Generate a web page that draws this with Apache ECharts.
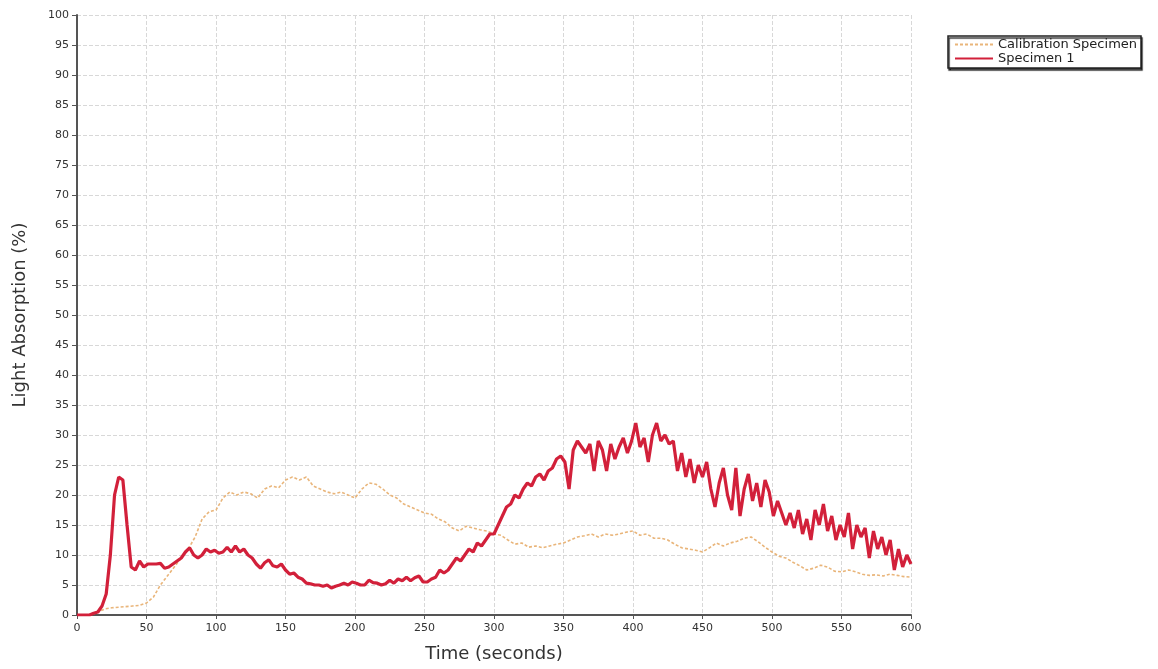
<!DOCTYPE html>
<html>
<head>
<meta charset="utf-8">
<script src="https://cdn.jsdelivr.net/npm/echarts@6/dist/echarts.min.js"></script>
<style>
html,body{margin:0;padding:0;background:#fff;}
#chart{width:1158px;height:669px;}
</style>
</head>
<body>
<div id="chart"></div>
<script>
// Specimen 1 sampled every 3 s (0..600)
var specimenStep = 3;
var specimen1 = [
  0,0,0,0,0.3,0.5,1.5,3.5,10,20,
  23,22.5,15,8,7.5,9,8,8.5,8.5,8.5,
  8.6,7.8,8,8.5,9,9.5,10.5,11.2,10,9.5,
  10,11,10.5,10.8,10.3,10.5,11.3,10.5,11.5,10.5,
  11,10,9.5,8.5,7.8,8.7,9.2,8.2,8,8.5,
  7.5,6.8,7,6.3,6,5.3,5.2,5,5,4.8,
  5,4.5,4.8,5,5.3,5,5.5,5.3,5,5,
  5.8,5.4,5.3,5,5.2,5.8,5.3,6,5.7,6.3,
  5.7,6.2,6.5,5.5,5.5,6,6.3,7.5,7,7.5,
  8.5,9.5,9,10,11,10.5,12,11.5,12.5,13.5,
  13.5,15,16.5,18,18.5,20,19.5,21,22,21.5,
  23,23.5,22.5,24,24.5,26,26.5,25.5,21,27.5,
  29,28,27,28.5,24,29,27.5,24,28.5,26,
  28,29.5,27,29,32,28,29.5,25.5,30,32,
  29,30,28.5,29,24,27,23,26,22,25,
  23,25.5,21,18,22,24.5,20,17.5,24.5,16.5,
  21,23.5,19,22,18,22.5,20.5,16.5,19,17,
  15,17,14.5,17.5,13.5,16,12.5,17.5,15,18.5,
  14,16.5,12.5,15,13,17,11,15,13,14.5,
  9.5,14,11,13,10,12.5,7.5,11,8,10,
  8.5
];
// Calibration Specimen sampled every 5 s (0..600)
var calibrationStep = 5;
var calibration = [
  0,0,0,0.5,1,1.2,1.3,1.4,1.5,1.6,
  2,3,5,6.5,8,9.5,11,13,16,17.2,
  17.5,19.5,20.5,20,20.5,20.2,19.5,21,21.5,21.2,
  22.5,23,22.5,23,21.5,21,20.5,20.2,20.5,20,
  19.5,21,22,21.8,21,20,19.5,18.5,18,17.5,
  17,16.8,16,15.5,14.5,14,14.8,14.5,14.2,14,
  13.5,13.3,12.5,11.8,12,11.3,11.5,11.2,11.5,11.8,
  12,12.5,13,13.2,13.5,13,13.5,13.3,13.5,13.8,
  14,13.3,13.5,12.8,12.8,12.5,11.8,11.2,11,10.8,
  10.5,11.2,12,11.5,12,12.3,12.8,13,12.2,11.3,
  10.5,9.8,9.5,8.8,8.2,7.5,7.8,8.3,8,7.3,
  7.2,7.5,7.2,6.8,6.6,6.7,6.5,6.8,6.6,6.4,
  6.3
];
var seriesNames = ['Calibration Specimen', 'Specimen 1'];
var xName = 'Time (seconds)';
var yName = 'Light Absorption (%)';

function pairs(vals, step){ return vals.map(function(v,i){ return [i*step, v]; }); }

var chart = echarts.init(document.getElementById('chart'));
var labelFont = {color:'#333', fontFamily:'DejaVu Sans', fontSize:11};
chart.setOption({
  animation:false,
  backgroundColor:'#fff',
  grid:{left:77, right:247, top:15, bottom:54, containLabel:false},
  legend:{
    orient:'vertical', left:948, top:36,
    data:seriesNames,
    borderColor:'#222', borderWidth:1.5, padding:[2,4,3,6],
    itemGap:1, itemWidth:38, itemHeight:8,
    itemStyle:{opacity:0},
    textStyle:{color:'#222', fontFamily:'DejaVu Sans', fontSize:13},
    backgroundColor:'#fff',
    shadowColor:'rgba(0,0,0,0.8)', shadowOffsetX:1, shadowOffsetY:2, shadowBlur:1
  },
  xAxis:{
    type:'value', min:0, max:600, interval:50,
    name:xName, nameLocation:'middle', nameGap:30,
    nameTextStyle:{color:'#333', fontFamily:'DejaVu Sans', fontSize:18},
    axisLine:{show:true, lineStyle:{color:'#555', width:2}},
    axisTick:{show:true, length:4, lineStyle:{color:'#555'}},
    axisLabel:labelFont,
    splitLine:{show:true, lineStyle:{color:'#d8d8d8', type:'dashed', width:1}}
  },
  yAxis:{
    type:'value', min:0, max:100, interval:5,
    name:yName, nameLocation:'middle', nameGap:48,
    nameTextStyle:{color:'#333', fontFamily:'DejaVu Sans', fontSize:18},
    axisLine:{show:true, lineStyle:{color:'#555', width:2}},
    axisTick:{show:true, length:5, lineStyle:{color:'#555'}},
    axisLabel:labelFont,
    splitLine:{show:true, lineStyle:{color:'#d8d8d8', type:'dashed', width:1}}
  },
  series:[
    {
      name:seriesNames[0], type:'line', symbol:'none', z:2,
      data:pairs(calibration, calibrationStep),
      lineStyle:{color:'#e9b57a', width:1.6, type:[3,2]},
      itemStyle:{color:'#e9b57a'}
    },
    {
      name:seriesNames[1], type:'line', symbol:'none', z:3,
      data:pairs(specimen1, specimenStep),
      lineStyle:{color:'#d2203a', width:3.2},
      itemStyle:{color:'#d2203a'}
    }
  ]
});
</script>
</body>
</html>
